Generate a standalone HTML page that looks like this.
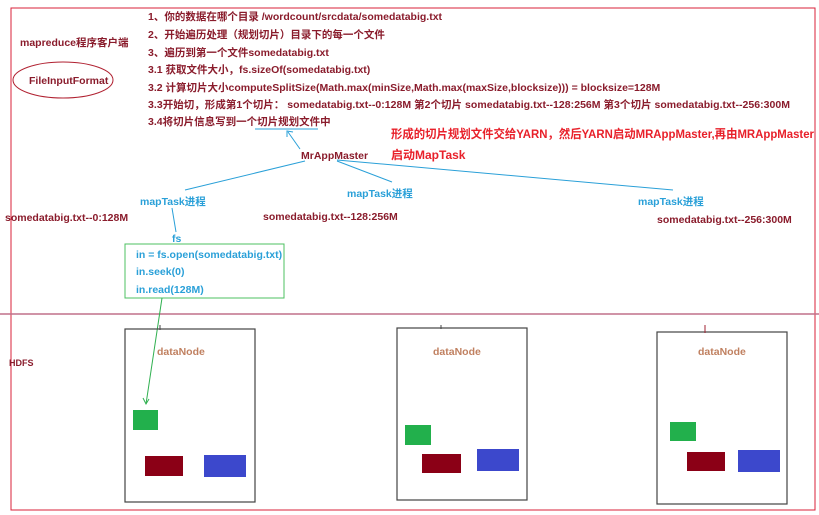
<!DOCTYPE html>
<html><head><meta charset="utf-8"><style>
body{margin:0;background:#fff}
svg{display:block}
text{font-family:"Liberation Sans","Noto Sans CJK SC",sans-serif;font-weight:bold;font-size:10.5px}
.d{fill:#8a1c2c}
.b{fill:#2aa0d8}
.r{fill:#e8202a;font-size:12px}
</style></head><body>
<svg width="819" height="515" viewBox="0 0 819 515" xmlns="http://www.w3.org/2000/svg">
<rect x="11" y="8" width="804" height="502" fill="none" stroke="#d8203a" stroke-width="1"/>
<line x1="0" y1="314" x2="819" y2="314" stroke="#c0708a" stroke-width="1.5"/>
<text x="20" y="46" class="d">mapreduce程序客户端</text>
<ellipse cx="63" cy="80" rx="50" ry="18" fill="none" stroke="#b02030" stroke-width="1"/>
<text x="29" y="84" class="d">FileInputFormat</text>
<text x="148" y="20" class="d">1、你的数据在哪个目录   /wordcount/srcdata/somedatabig.txt</text>
<text x="148" y="38" class="d">2、开始遍历处理（规划切片）目录下的每一个文件</text>
<text x="148" y="56" class="d">3、遍历到第一个文件somedatabig.txt</text>
<text x="148" y="73" class="d">3.1 获取文件大小，fs.sizeOf(somedatabig.txt)</text>
<text x="148" y="91" class="d">3.2 计算切片大小computeSplitSize(Math.max(minSize,Math.max(maxSize,blocksize)))  = blocksize=128M</text>
<text x="148" y="108" class="d" textLength="642">3.3开始切，形成第1个切片： somedatabig.txt--0:128M  第2个切片 somedatabig.txt--128:256M   第3个切片 somedatabig.txt--256:300M</text>
<text x="148" y="125" class="d">3.4将切片信息写到一个切片规划文件中</text>
<line x1="255" y1="129" x2="318" y2="129" stroke="#2aa0d8"/>
<line x1="300" y1="149" x2="288" y2="132" stroke="#2aa0d8"/>
<polyline points="287,137 287,131 293,132" fill="none" stroke="#2aa0d8"/>
<text x="301" y="159" class="d">MrAppMaster</text>
<text x="391" y="138" class="r" textLength="423" lengthAdjust="spacingAndGlyphs">形成的切片规划文件交给YARN，然后YARN启动MRAppMaster,再由MRAppMaster</text>
<text x="391" y="159" class="r">启动MapTask</text>
<line x1="305" y1="161" x2="185" y2="190" stroke="#2aa0d8"/>
<line x1="337" y1="161" x2="392" y2="182" stroke="#2aa0d8"/>
<line x1="337" y1="160" x2="673" y2="190" stroke="#2aa0d8"/>
<text x="140" y="205" class="b">mapTask进程</text>
<text x="347" y="197" class="b">mapTask进程</text>
<text x="638" y="205" class="b">mapTask进程</text>
<text x="5" y="221" class="d">somedatabig.txt--0:128M</text>
<text x="263" y="220" class="d">somedatabig.txt--128:256M</text>
<text x="657" y="223" class="d">somedatabig.txt--256:300M</text>
<line x1="172" y1="208" x2="176" y2="232" stroke="#2aa0d8"/>
<text x="172" y="242" class="b">fs</text>
<rect x="125" y="244" width="159" height="54" fill="none" stroke="#4cc060"/>
<text x="136" y="258" class="b">in = fs.open(somedatabig.txt)</text>
<text x="136" y="275" class="b">in.seek(0)</text>
<text x="136" y="293" class="b">in.read(128M)</text>
<line x1="162" y1="298" x2="146" y2="404" stroke="#30b050"/>
<polyline points="143,398 146,404 149,399" fill="none" stroke="#30b050"/>
<text x="9" y="366" class="d" style="font-size:9px">HDFS</text>
<g fill="none" stroke="#444" stroke-width="1.2">
<rect x="125" y="329" width="130" height="173"/>
<rect x="397" y="328" width="130" height="172"/>
<rect x="657" y="332" width="130" height="172"/>
</g>
<line x1="160" y1="325" x2="160" y2="330" stroke="#444"/>
<line x1="441" y1="325" x2="441" y2="329" stroke="#444"/>
<line x1="705" y1="325" x2="705" y2="333" stroke="#a02030"/>
<g style="font-weight:normal;font-size:11.5px;fill:#c08060">
<text x="157" y="355">dataNode</text>
<text x="433" y="355">dataNode</text>
<text x="698" y="355">dataNode</text>
</g>
<rect x="133" y="410" width="25" height="20" fill="#22b04c"/>
<rect x="145" y="456" width="38" height="20" fill="#8b0016"/>
<rect x="204" y="455" width="42" height="22" fill="#3c48cc"/>
<rect x="405" y="425" width="26" height="20" fill="#22b04c"/>
<rect x="422" y="454" width="39" height="19" fill="#8b0016"/>
<rect x="477" y="449" width="42" height="22" fill="#3c48cc"/>
<rect x="670" y="422" width="26" height="19" fill="#22b04c"/>
<rect x="687" y="452" width="38" height="19" fill="#8b0016"/>
<rect x="738" y="450" width="42" height="22" fill="#3c48cc"/>
</svg>
</body></html>
